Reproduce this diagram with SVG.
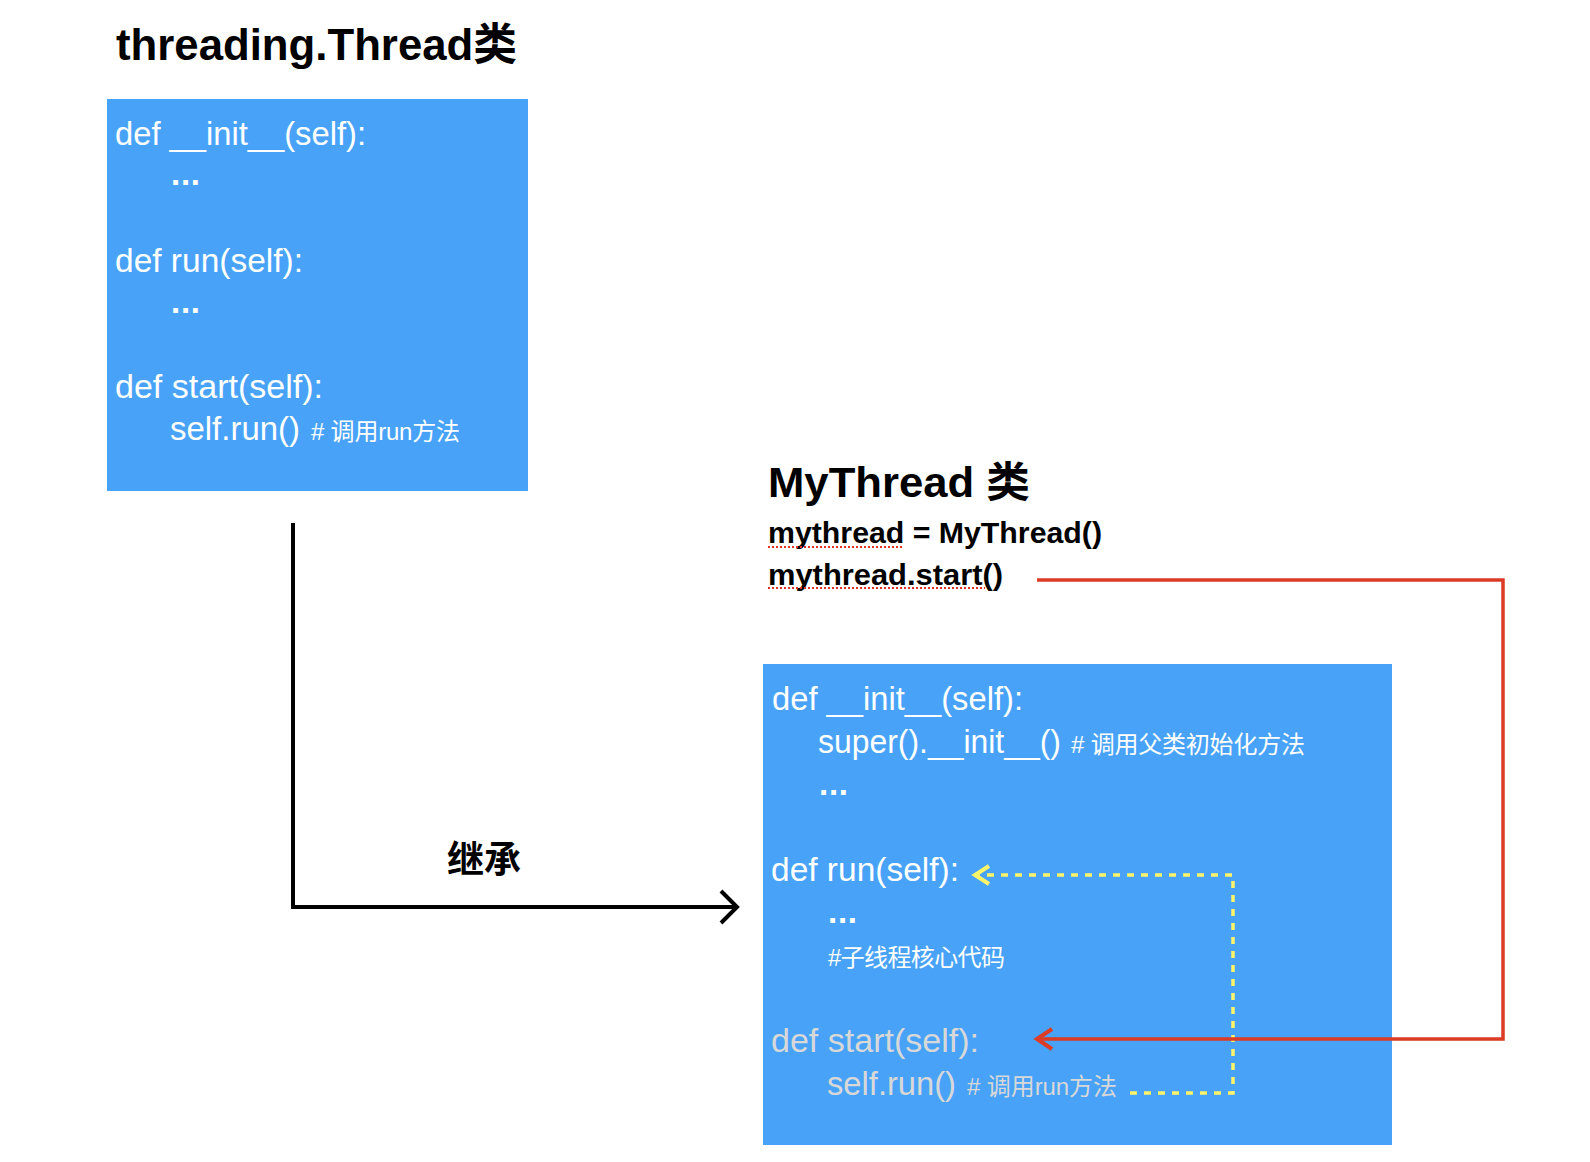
<svg xmlns="http://www.w3.org/2000/svg" width="1590" height="1162" viewBox="0 0 1590 1162">
<style>
text{font-family:"Liberation Sans","Noto Sans CJK SC",sans-serif;}
.title{font-weight:bold;fill:#000;}
.code{font-size:33px;fill:#fff;}
.dots{font-size:33px;font-weight:bold;fill:#fff;}
.cmt{font-size:24px;fill:#fff;}
.grey{fill:#d8d8d8;}
.box{fill:#48a3f8;}
.squig{stroke:#e0302a;stroke-width:2;stroke-dasharray:2 2;fill:none;}
</style>
<defs>
<marker id="arrBlack" markerUnits="userSpaceOnUse" markerWidth="40" markerHeight="40" viewBox="-20 -20 40 40" refX="0" refY="0" orient="auto">
<path d="M-16,-16 L0,0 L-16,16" fill="none" stroke="#000" stroke-width="4"/>
</marker>
<marker id="arrRed" markerUnits="userSpaceOnUse" markerWidth="40" markerHeight="40" viewBox="-20 -20 40 40" refX="0" refY="0" orient="auto">
<path d="M-15,-10 L0,0 L-15,10" fill="none" stroke="#dc3b26" stroke-width="4"/>
</marker>
<marker id="arrYellow" markerUnits="userSpaceOnUse" markerWidth="40" markerHeight="40" viewBox="-20 -20 40 40" refX="0" refY="0" orient="auto">
<path d="M-14,-9 L0,0 L-14,9" fill="none" stroke="#fff56b" stroke-width="4"/>
</marker>
</defs>
<rect width="1590" height="1162" fill="#fff"/>

<g id="thread-class">
<text class="title" x="116" y="60" font-size="44" textLength="401" lengthAdjust="spacingAndGlyphs">threading.Thread类</text>
<rect class="box" x="107" y="99" width="421" height="392"/>
<text class="code" x="115" y="145" textLength="251" lengthAdjust="spacingAndGlyphs">def __init__(self):</text>
<text class="dots" x="171" y="185" textLength="29">...</text>
<text class="code" x="115" y="272" textLength="188" lengthAdjust="spacingAndGlyphs">def run(self):</text>
<text class="dots" x="171" y="313" textLength="29">...</text>
<text class="code" x="115" y="398" textLength="208" lengthAdjust="spacingAndGlyphs">def start(self):</text>
<text class="code" x="170" y="440" textLength="130" lengthAdjust="spacingAndGlyphs">self.run()</text>
<text class="cmt" x="311" y="440" textLength="149">#  调用run方法</text>
</g>

<g id="mythread-usage">
<text class="title" x="768" y="497" font-size="42" textLength="262" lengthAdjust="spacingAndGlyphs">MyThread 类</text>
<text class="title" x="768" y="543" font-size="29" textLength="334" lengthAdjust="spacingAndGlyphs">mythread = MyThread()</text>
<text class="title" x="768" y="585" font-size="29" textLength="235" lengthAdjust="spacingAndGlyphs">mythread.start()</text>
<line class="squig" x1="768" y1="547" x2="903" y2="547"/>
<line class="squig" x1="768" y1="588" x2="985" y2="588"/>
</g>

<g id="mythread-class">
<rect class="box" x="763" y="664" width="629" height="481"/>
<text class="code" x="772" y="710" textLength="251" lengthAdjust="spacingAndGlyphs">def __init__(self):</text>
<text class="code" x="818" y="753" textLength="243" lengthAdjust="spacingAndGlyphs">super().__init__()</text>
<text class="cmt" x="1071" y="753" textLength="234">#  调用父类初始化方法</text>
<text class="dots" x="819" y="795" textLength="29">...</text>
<text class="code" x="771" y="881" textLength="188" lengthAdjust="spacingAndGlyphs">def run(self):</text>
<text class="dots" x="828" y="923" textLength="29">...</text>
<text class="cmt" x="828" y="966" textLength="177">#子线程核心代码</text>
<text class="code grey" x="771" y="1052" textLength="208" lengthAdjust="spacingAndGlyphs">def start(self):</text>
<text class="code grey" x="827" y="1095" textLength="129" lengthAdjust="spacingAndGlyphs">self.run()</text>
<text class="cmt grey" x="967" y="1095" textLength="150">#  调用run方法</text>
</g>

<g id="inherit-label">
<text class="title" x="447" y="873" font-size="37">继承</text>
</g>

<g id="connectors">
<path d="M293,523 V907 H737" fill="none" stroke="#000" stroke-width="4" marker-end="url(#arrBlack)"/>
<path d="M1130,1093 H1233 V875 H975" fill="none" stroke="#fff56b" stroke-width="3.5" stroke-dasharray="7 7" marker-end="url(#arrYellow)"/>
<path d="M1037,580 H1503 V1039 H1037" fill="none" stroke="#dc3b26" stroke-width="3.5" marker-end="url(#arrRed)"/>
</g>
</svg>
